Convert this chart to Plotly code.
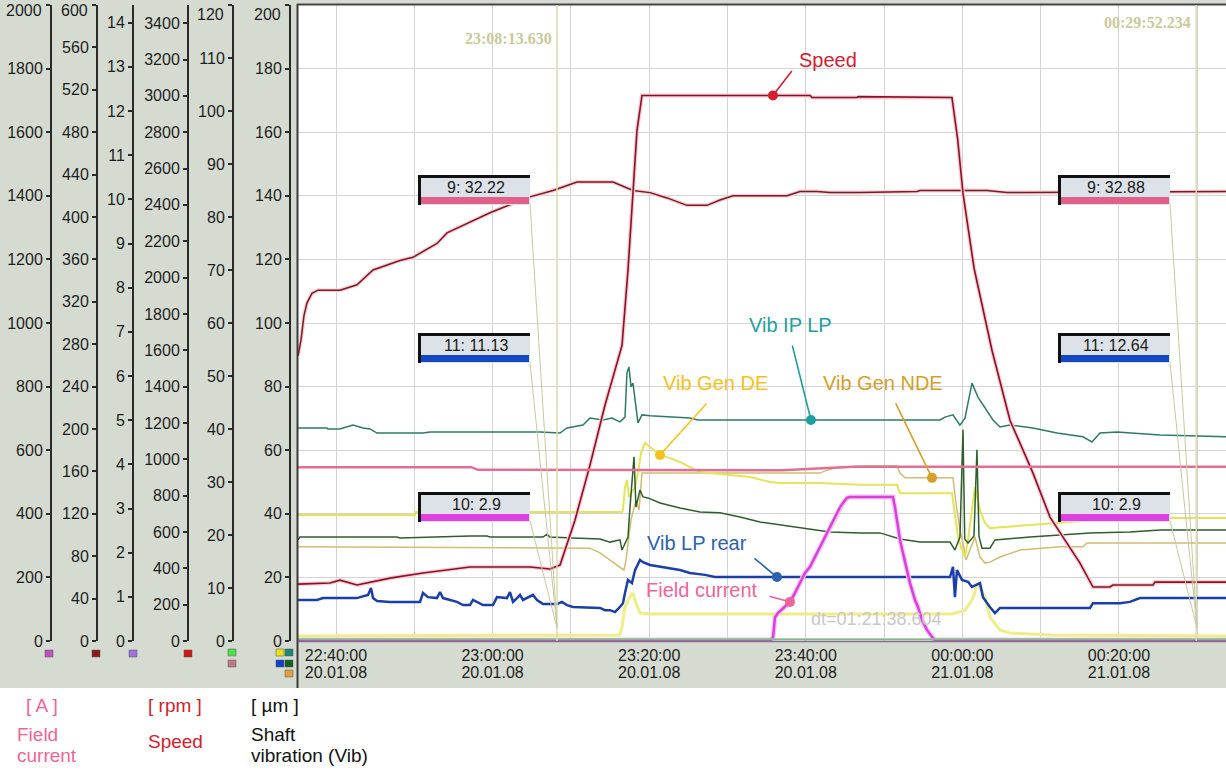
import plotly.graph_objects as go
import pandas as pd

# ---------------- data: time in minutes after 20.01.08 22:40:00 ----------------
# Speed [rpm] (axis 0-3500)
speed_t = [-4.85, -0.77, 0.51, 2.68, 6.90, 11.11, 17.11, 24.78, 27.33, 28.61, 30.52, 32.44, 34.35,
           35.63, 36.53, 37.29, 37.93, 38.44, 39.08, 60.54, 60.80, 66.54, 66.70, 78.67, 79.40, 80.08,
           81.50, 83.78, 86.08, 89.02, 91.19, 93.36, 95.02, 96.68, 98.85, 99.23, 104.34, 104.60, 113.67]
speed_rpm = [313, 319, 335, 308, 346, 374, 407, 407, 396, 418, 665, 968, 1297,
             1490, 1627, 2040, 2479, 2809, 3002, 3002, 2991, 2991, 2996, 2991, 2760, 2463,
             2050, 1600, 1215, 924, 682, 539, 429, 297, 297, 308, 308, 324, 324]

# dark red channel on the 0-600 axis
chA_t = [-4.85, -4.47, -4.09, -3.70, -3.07, -2.30, 0.51, 2.68, 4.73, 8.17, 9.83, 12.90, 14.18, 16.73,
         19.67, 21.33, 24.78, 27.71, 30.78, 35.38, 37.93, 40.10, 42.27, 44.83, 47.38, 49.04, 50.70,
         57.60, 59.26, 61.43, 63.09, 66.92, 74.20, 74.58, 83.14, 85.70, 88.25, 113.67]
chA_v = [269, 284, 307, 319, 328, 331, 331, 336, 350, 359, 362, 375, 385, 394,
         404, 409, 419, 425, 433, 433, 425, 423, 418, 411, 411, 416, 420,
         420, 424, 424, 423, 423, 424, 425, 425, 423, 423, 424]

# channel 9 (pink) on the 0-120 axis
ch9_t = [-4.85, 17.30, 18.10, 57.00, 66.00, 113.67]
ch9_v = [32.8, 32.8, 32.3, 32.22, 32.88, 32.88]

# Vib IP LP [um]
ipl_t = [-4.85, -1.15, -1.02, 0.51, 0.89, 2.17, 3.45, 4.34, 5.24, 11.11, 12.01, 26.05, 28.61, 29.50,
         31.55, 32.44, 34.10, 35.25, 36.27, 36.91, 37.16, 37.42, 37.68, 37.93, 38.31, 38.57, 39.08,
         40.10, 45.21, 46.23, 77.14, 77.78, 78.80, 79.69, 80.33, 81.23, 81.99, 83.14, 83.91, 84.80,
         86.08, 89.02, 92.08, 95.40, 96.55, 97.57, 99.74, 105.24, 110.34, 113.67]
ipl_v = [67.0, 67.0, 66.7, 66.7, 67.0, 67.9, 67.0, 66.7, 65.4, 65.4, 65.7, 65.7, 65.4, 67.0,
         67.9, 70.1, 69.5, 70.1, 68.9, 70.4, 84.3, 86.2, 79.9, 81.1, 73.6, 68.6, 71.1,
         70.8, 70.1, 69.5, 69.5, 70.4, 71.1, 67.9, 70.1, 81.1, 76.7, 72.6, 69.5, 67.3,
         67.9, 67.0, 65.4, 64.2, 62.6, 65.4, 65.7, 64.8, 64.5, 64.2]

# Vib LP rear [um]
lpr_t = [-4.85, -2.43, -1.66, 2.68, 3.07, 4.09, 4.47, 4.73, 5.24, 6.90, 10.73, 11.11, 11.75, 12.90,
         13.28, 13.67, 15.45, 16.22, 17.11, 17.50, 18.77, 20.05, 20.56, 21.84, 22.22, 22.61, 23.12,
         23.50, 23.88, 25.16, 25.67, 26.44, 28.22, 28.86, 29.50, 30.27, 33.72, 34.35, 34.99, 35.63,
         36.27, 36.65, 36.91, 37.29, 37.80, 38.19, 38.83, 39.21, 40.10, 41.38, 43.93, 45.21, 47.13,
         48.40, 78.42, 78.80, 79.05, 79.31, 79.95, 80.72, 81.23, 82.25, 82.63, 83.52, 84.16, 84.80,
         96.30, 96.68, 100.13, 101.40, 102.68, 113.67]
lpr_v = [12.9, 12.9, 13.5, 13.5, 13.8, 14.5, 16.7, 13.5, 12.6, 12.3, 12.3, 15.1, 13.8, 13.5,
         15.4, 13.5, 12.3, 11.3, 11.3, 12.9, 11.3, 11.3, 13.8, 13.5, 15.4, 12.3, 13.5,
         14.5, 12.9, 14.5, 12.9, 11.6, 11.6, 12.3, 11.3, 10.7, 10.4, 9.7, 9.7, 9.1,
         10.7, 11.9, 15.1, 19.2, 18.2, 22.3, 25.5, 24.8, 23.9, 23.3, 22.3, 21.4, 20.8,
         20.1, 20.1, 23.3, 13.8, 22.3, 19.2, 18.6, 17.0, 18.2, 13.8, 10.7, 8.8, 10.4,
         10.4, 11.9, 11.9, 12.3, 13.5, 13.5]

# dark green vibration channel [um]
dg_t = [-4.85, -4.60, 7.79, 8.17, 17.11, 19.28, 19.67, 26.44, 26.95, 27.33, 30.27, 33.72, 34.99,
        36.27, 36.53, 36.91, 37.29, 37.55, 37.80, 38.06, 38.19, 38.31, 38.83, 39.21, 39.85, 41.38,
        43.93, 46.49, 49.04, 51.60, 54.15, 56.70, 59.26, 63.09, 66.92, 69.48, 72.03, 74.58, 78.42,
        79.05, 79.69, 80.08, 80.30, 80.72, 81.48, 81.86, 82.12, 82.50, 83.52, 84.16, 88.63, 92.46,
        96.30, 101.40, 105.24, 113.67]
dg_v = [31.8, 32.7, 32.7, 32.4, 33.0, 33.0, 32.7, 32.7, 33.6, 32.7, 32.4, 32.1, 31.1,
        31.8, 28.6, 30.8, 32.7, 42.1, 50.6, 57.9, 50.0, 42.1, 47.5, 45.3, 45.0, 43.4,
        41.8, 40.6, 40.3, 39.0, 37.4, 36.5, 35.5, 34.3, 34.0, 34.0, 32.1, 31.1, 31.1,
        28.6, 32.7, 66.4, 32.1, 30.8, 33.0, 60.1, 33.0, 29.2, 29.2, 31.8, 32.7, 33.3,
        34.0, 34.3, 34.9, 34.9]

# Vib Gen DE [um]
gde_t = [-4.85, 10.09, 10.20, 36.53, 36.65, 36.91, 37.16, 37.42, 37.80, 38.19, 38.57, 38.95, 39.46,
         40.10, 41.38, 42.66, 43.93, 45.21, 46.49, 47.77, 50.32, 52.87, 55.43, 56.70, 61.81, 66.92,
         71.65, 72.03, 78.67, 79.05, 79.44, 79.95, 80.33, 80.72, 81.23, 81.61, 82.25, 82.89, 83.52,
         84.80, 88.63, 93.74, 97.57, 103.96, 113.67]
gde_v = [39.6, 39.6, 40.6, 40.6, 41.2, 48.4, 50.6, 45.3, 46.9, 48.4, 52.8, 59.1, 62.3,
         61.0, 58.5, 57.5, 56.3, 54.7, 53.1, 52.8, 52.2, 51.6, 50.0, 49.7, 49.7, 49.1,
         49.1, 46.5, 46.5, 39.0, 32.7, 28.6, 26.4, 31.8, 41.2, 48.4, 41.2, 37.1, 35.5,
         35.8, 36.5, 37.4, 38.1, 38.7, 38.7]

# Vib Gen NDE [um]
gnde_t = [-4.85, 32.44, 33.72, 34.99, 36.27, 36.78, 37.04, 37.68, 38.31, 38.70, 39.08, 61.81, 62.45,
          63.73, 65.64, 66.92, 71.65, 72.03, 72.67, 78.80, 79.18, 79.69, 80.08, 80.46, 80.97, 81.61,
          82.25, 82.89, 83.52, 84.80, 87.36, 89.91, 92.46, 95.40, 95.91, 113.67]
gnde_v = [29.6, 29.2, 27.7, 25.5, 23.3, 22.3, 25.5, 38.1, 44.3, 41.2, 52.8, 52.8, 53.5,
          54.4, 54.7, 55.0, 55.0, 52.8, 51.3, 51.3, 43.4, 34.9, 30.8, 25.5, 28.6, 32.7,
          26.4, 24.5, 24.8, 26.4, 28.6, 29.2, 29.6, 29.6, 30.8, 30.8]

# light yellow channel near zero [um]
ly_t = [-4.85, 36.27, 36.53, 36.91, 37.55, 37.93, 38.31, 38.83, 40.10, 78.67, 80.33, 81.23, 81.99,
        82.89, 83.52, 84.80, 86.08, 91.19, 113.67]
ly_v = [1.6, 1.9, 4.4, 10.7, 13.8, 15.1, 11.9, 8.8, 8.5, 8.5, 9.7, 12.9, 18.2,
        13.8, 7.5, 3.5, 2.5, 1.9, 1.6]

# Field current [A]
fc_t = [-4.85, 55.43, 55.81, 56.07, 56.45, 57.34, 57.98, 58.62, 59.26, 59.90, 60.54, 61.17, 61.81,
        62.45, 63.09, 63.73, 64.37, 64.75, 65.26, 65.64, 71.14, 71.39, 71.78, 72.03, 72.41, 72.80,
        73.31, 73.95, 74.33, 74.84, 75.48, 76.25, 76.50, 113.67]
fc_a = [2.9, 2.9, 9, 75, 88, 107, 123, 151, 182, 214, 233, 264, 296,
        327, 358, 390, 421, 434, 450, 453, 453, 421, 358, 318, 277, 233,
        182, 129, 107, 66, 35, 9, 2.9, 2.9]

# green channel (0-120 axis) and violet channel (0-14 axis), both near zero
gr_t = [-4.85, 113.67]
gr_v = [0.4, 0.4]
vi_t = [-4.85, 113.67]
vi_v = [0.03, 0.03]

# axis tick labels
x_tick_min = [0, 10, 20, 30, 40, 50, 60, 70, 80, 90, 100, 110]
x_tick_time = ["22:40:00", "", "23:00:00", "", "23:20:00", "", "23:40:00", "", "00:00:00", "", "00:20:00", ""]
x_tick_date = ["20.01.08", "", "20.01.08", "", "20.01.08", "", "20.01.08", "", "21.01.08", "", "21.01.08", ""]

# cursors and readouts
cursor_min = [28.2272, 109.8706]
cursor_text = ["23:08:13.630", "00:29:52.234"]
readout_left = ["9: 32.22", "11: 11.13", "10: 2.9"]
readout_right = ["9: 32.88", "11: 12.64", "10: 2.9"]
dt_text = "dt=01:21:38.604"

# callouts: label, time, value, axis
callout_label = ["Speed", "Vib IP LP", "Vib Gen DE", "Vib Gen NDE", "Vib LP rear", "Field current"]
callout_t = [55.81, 60.66, 41.38, 76.12, 56.32, 57.98]
callout_v = [3002, 69.5, 58.5, 51.3, 20.1, 123]
callout_axis = ["y5", "y", "y", "y", "y", "y2"]

# ---------------- helpers ----------------
W, H = 1226, 770
T0 = pd.Timestamp("2008-01-20 22:40:00")


def ts(mins):
    return [T0 + pd.Timedelta(minutes=m) for m in mins]


def px(x):
    return x / W


def py(y):
    return 1 - y / H


TICKF = "Liberation Sans, Arial, sans-serif"
SANS = "Liberation Sans, Arial, Helvetica, sans-serif"
SERIF = "Liberation Serif, Times New Roman, serif"
GRAY_BG = "#d5dbd0"
AX_COL = "#2a2a2a"
YDOM = [py(641), py(5)]

fig = go.Figure()


def add_line(t, v, yax, color, width, halo=None):
    if halo:
        fig.add_trace(go.Scatter(x=ts(t), y=v, yaxis=yax, mode="lines",
                                 line=dict(color=halo, width=width + 2.5), hoverinfo="skip"))
    fig.add_trace(go.Scatter(x=ts(t), y=v, yaxis=yax, mode="lines",
                             line=dict(color=color, width=width), hoverinfo="skip"))


add_line(gr_t, gr_v, "y6", "#8cc88c", 1.5)
add_line(vi_t, vi_v, "y4", "#9a6ad0", 1.2)
add_line(fc_t, fc_a, "y2", "#dc40dc", 2.5, halo="#f2c4f2")
add_line(ly_t, ly_v, "y", "#eeee88", 3)
add_line(chA_t, chA_v, "y3", "#7a1a24", 1.5, halo="#f4d0d6")
add_line(ch9_t, ch9_v, "y6", "#e07092", 2.5)
add_line(gnde_t, gnde_v, "y", "#d2bc72", 1.5)
add_line(gde_t, gde_v, "y", "#e4e45a", 2)
add_line(dg_t, dg_v, "y", "#2e5e2a", 1.5)
add_line(ipl_t, ipl_v, "y", "#2f7a66", 1.5)
add_line(lpr_t, lpr_v, "y", "#1a3fa8", 2.5)
add_line(speed_t, speed_rpm, "y5", "#8a1026", 1.6, halo="#f4ccd4")

callout_col = ["#d42030", "#1fa0a0", "#f5c21b", "#d4a02a", "#2b62ae", "#f0649a"]
for lab, t, v, ax, col in zip(callout_label, callout_t, callout_v, callout_axis, callout_col):
    fig.add_trace(go.Scatter(x=ts([t]), y=[v], yaxis=ax, mode="markers",
                             marker=dict(color=col, size=10), hoverinfo="skip"))

# ---------------- axes ----------------
tickfont = dict(family=TICKF, size=16, color="#1e1e1e")
base = dict(domain=YDOM, anchor="free", showgrid=False, zeroline=False, showline=True,
            linecolor=AX_COL, linewidth=2, ticks="outside", ticklen=4, tickwidth=1.5,
            tickcolor=AX_COL, tickfont=tickfont, side="left", fixedrange=True,
            ticklabeloverflow="allow")
axes_spec = [  # name, position px, range max, dtick, top label y
    ("yaxis", 290, 200, 20, 14),
    ("yaxis2", 51, 2000, 200, 11),
    ("yaxis3", 97, 600, 40, 11),
    ("yaxis4", 133, 14.4, 1, None),
    ("yaxis5", 188, 3500, 200, None),
    ("yaxis6", 233, 120, 10, 14),
]
layout_axes = {}
top_labels = []
for i, (name, pos, rmax, dt, top_y) in enumerate(axes_spec):
    nt = int(rmax // dt + 1e-9)
    vals = [k * dt for k in range(nt + 1)]
    # the label of the very top tick is drawn separately, a little lower, as in the original
    texts = ["" if abs(v - rmax) < 1e-9 else "%g" % v for v in vals]
    if top_y is not None:
        top_labels.append((pos - 7, top_y, "%g" % rmax))
    d = dict(base, position=px(pos), range=[0, rmax], tickvals=vals, ticktext=texts)
    if name == "yaxis":
        d.update(showgrid=True, gridcolor="#d4d4d4", gridwidth=1)
    else:
        d.update(overlaying="y")
    layout_axes[name] = d
    # twin for the right half of the cross ticks
    layout_axes["yaxis%d" % (7 + i)] = dict(domain=YDOM, anchor="free", overlaying="y", side="right",
                                              position=px(pos), range=[0, rmax], tickvals=vals,
                                              showgrid=False, zeroline=False, showline=False,
                                              showticklabels=False, ticks="outside", ticklen=4,
                                              tickwidth=1.5, tickcolor=AX_COL, fixedrange=True)

xrange = [T0 + pd.Timedelta(minutes=-4.853), T0 + pd.Timedelta(minutes=113.67)]
layout_axes["xaxis"] = dict(domain=[px(298), 1], range=xrange, type="date", anchor="y",
                            tickvals=ts(x_tick_min), ticktext=x_tick_time, showgrid=True,
                            gridcolor="#d4d4d4", gridwidth=1, showline=False, zeroline=False,
                            ticks="", tickfont=tickfont, fixedrange=True, ticklabelstandoff=3,
                            ticklabeloverflow="allow")
layout_axes["xaxis2"] = dict(domain=[px(298), 1], range=xrange, type="date", anchor="free",
                             overlaying="x", position=py(661), tickvals=ts(x_tick_min),
                             ticktext=x_tick_date, showgrid=False, showline=False, zeroline=False,
                             ticks="", tickfont=tickfont, fixedrange=True, ticklabeloverflow="allow")
fig.add_trace(go.Scatter(x=ts([0]), y=[None], xaxis="x2", yaxis="y", mode="lines", hoverinfo="skip"))

# ---------------- shapes ----------------
shapes = []
# white area below the instrument panel
shapes.append(dict(type="rect", xref="paper", yref="paper", x0=0, x1=1, y0=0, y1=py(688),
                   fillcolor="white", line=dict(width=0), layer="below"))
# frame
shapes.append(dict(type="line", xref="paper", yref="paper", x0=px(297), x1=1, y0=py(4.5), y1=py(4.5),
                   line=dict(color="#444444", width=2)))
shapes.append(dict(type="line", xref="paper", yref="paper", x0=px(297.5), x1=px(297.5), y0=py(4), y1=py(688),
                   line=dict(color="#3a3a3a", width=2)))
shapes.append(dict(type="line", xref="paper", yref="paper", x0=px(298), x1=1, y0=py(641.5), y1=py(641.5),
                   line=dict(color="#777777", width=1.5)))
# cursor lines
for cm in cursor_min:
    shapes.append(dict(type="line", xref="x", yref="paper", x0=ts([cm])[0], x1=ts([cm])[0],
                       y0=py(641), y1=py(5), line=dict(color="#dcdcb0", width=1.5)))
# readout boxes
box_tops = [175, 333, 492]
bar_cols = ["#e0608a", "#1448c0", "#e040e0"]
for bx0, texts, cm in [(418, readout_left, cursor_min[0]), (1058, readout_right, cursor_min[1])]:
    bx1 = bx0 + 112
    for top, txt, bc in zip(box_tops, texts, bar_cols):
        # leader line to cursor foot
        shapes.append(dict(type="line", xref="paper", yref="paper", x0=px(bx1), y0=py(top + 29),
                           x1=px(bx1 + 27), y1=py(628), line=dict(color="#c8c8a4", width=1)))
        shapes.append(dict(type="rect", xref="paper", yref="paper", x0=px(bx0), x1=px(bx1),
                           y0=py(top + 30), y1=py(top), fillcolor="#dde2e8", line=dict(width=0)))
        shapes.append(dict(type="line", xref="paper", yref="paper", x0=px(bx0), x1=px(bx1),
                           y0=py(top + 1.5), y1=py(top + 1.5), line=dict(color="#111111", width=3)))
        shapes.append(dict(type="line", xref="paper", yref="paper", x0=px(bx0 + 1.5), x1=px(bx0 + 1.5),
                           y0=py(top), y1=py(top + 30), line=dict(color="#111111", width=3)))
        shapes.append(dict(type="rect", xref="paper", yref="paper", x0=px(bx0 + 3), x1=px(bx1 - 1),
                           y0=py(top + 29), y1=py(top + 22), fillcolor=bc, line=dict(width=0)))
# axis flags
flags = [(45, 650, "#c050c0"), (92, 650, "#901818"), (129, 650, "#a070e0"), (184, 650, "#d01818"),
         (228, 649, "#50e050"), (228, 660, "#c07888"),
         (276, 649, "#e8e020"), (285, 649, "#208870"), (276, 660, "#1040d0"), (285, 660, "#106020"),
         (285, 670, "#e0a040")]
for fx, fy, fc in flags:
    shapes.append(dict(type="rect", xref="paper", yref="paper", x0=px(fx), x1=px(fx + 8),
                       y0=py(fy + 7), y1=py(fy), fillcolor=fc, line=dict(color="#555555", width=0.5)))

# ---------------- annotations ----------------
ann = []
for lx, ly, txt in top_labels:
    ann.append(dict(x=px(lx), y=py(ly), xref="paper", yref="paper", text=txt, showarrow=False,
                    xanchor="right", yanchor="middle", font=tickfont))
for cm, txt, yy in zip(cursor_min, cursor_text, [38, 23]):
    ann.append(dict(x=ts([cm])[0], xref="x", y=py(yy), yref="paper", text="<b>%s</b>" % txt,
                    showarrow=False, xanchor="right", yanchor="middle", xshift=-3,
                    font=dict(family=SERIF, size=16, color="#c9c99a")))
ann.append(dict(x=px(876), y=py(619), xref="paper", yref="paper", text=dt_text, showarrow=False,
                xanchor="center", yanchor="middle",
                font=dict(family=SANS, size=18, color="#c8c8c8")))
for bx0, texts in [(418, readout_left), (1058, readout_right)]:
    for top, txt in zip(box_tops, texts):
        ann.append(dict(x=px(bx0 + 58), y=py(top + 12), xref="paper", yref="paper", text=txt,
                        showarrow=False, xanchor="center", yanchor="middle",
                        font=dict(family=TICKF, size=16, color="#1a1a1a")))
# callout labels and leader lines
label_pos = [(828, 60), (790, 325), (715, 383), (883, 383), (697, 543), (702, 590)]
lead_off = [(20, -26), (-19, -76), (48, -53), (-37, -76), (-24, -20), (-22, -6)]
for lab, (lx, ly), (ax, ay), t, v, yax, col in zip(callout_label, label_pos, lead_off, callout_t,
                                                  callout_v, callout_axis, callout_col):
    ann.append(dict(x=px(lx), y=py(ly), xref="paper", yref="paper", text=lab, showarrow=False,
                    xanchor="center", yanchor="middle",
                    font=dict(family=SANS, size=20, color=col)))
    ann.append(dict(x=ts([t])[0], y=v, xref="x", yref=yax, text="", showarrow=True, ax=ax, ay=ay,
                    arrowhead=0, arrowwidth=1.6, arrowcolor=col, standoff=0, startstandoff=0))
# unit legend under the panel
legend_items = [
    (25, 705, "[ A ]", "#f0649a"), (16, 734, "Field", "#f0649a"), (16, 755, "current", "#f0649a"),
    (147, 705, "[ rpm ]", "#d42030"), (147, 741, "Speed", "#d42030"),
    (250, 705, "[ \u00b5m ]", "#111111"), (250, 734, "Shaft", "#111111"), (250, 755, "vibration (Vib)", "#111111"),
]
for lx, ly, txt, col in legend_items:
    ann.append(dict(x=px(lx), y=py(ly), xref="paper", yref="paper", text=txt, showarrow=False,
                    xanchor="left", yanchor="middle", borderpad=0,
                    font=dict(family=SANS, size=19, color=col)))

fig.update_layout(width=W, height=H, margin=dict(l=0, r=0, t=0, b=0, autoexpand=False),
                  paper_bgcolor=GRAY_BG, plot_bgcolor="white", showlegend=False, hovermode=False,
                  shapes=shapes, annotations=ann, **layout_axes)

fig.write_html("out.html")
